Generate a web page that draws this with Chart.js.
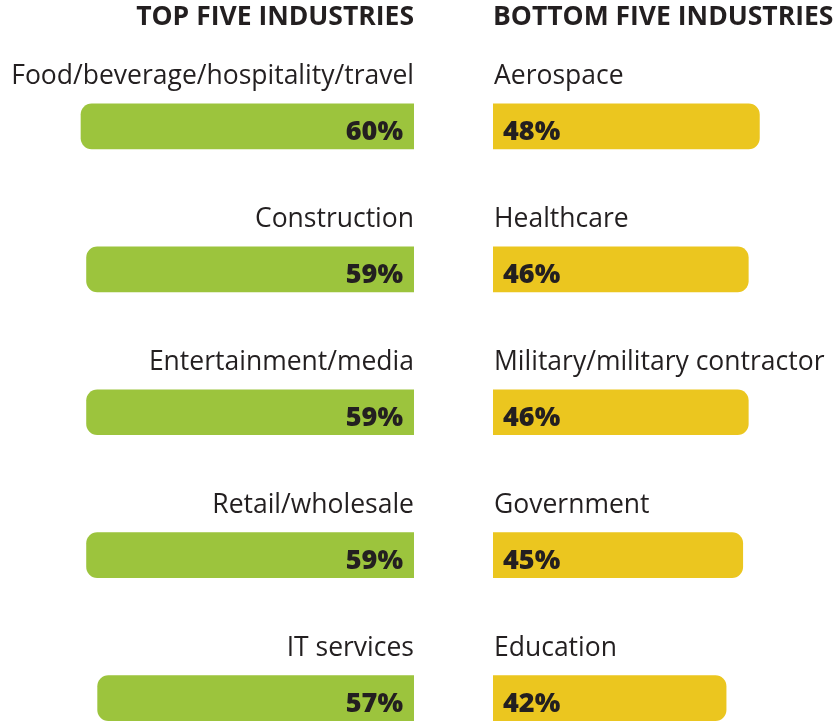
<!DOCTYPE html>
<html>
<head>
<meta charset="utf-8">
<script src="https://cdn.jsdelivr.net/npm/chart.js@4/dist/chart.umd.min.js"></script>
<style>
    html, body { margin: 0; padding: 0; background: #ffffff; overflow: hidden; }
    #wrap { position: relative; width: 837px; height: 721px; overflow: hidden; }
    #wrap canvas { position: absolute; top: 0; }
    #topChart { left: 0; }
    #bottomChart { left: 493px; }
</style>
</head>
<body>
<div id="wrap">
    <canvas id="topChart" width="414" height="780"></canvas>
    <canvas id="bottomChart" width="344" height="780"></canvas>
</div>
<script>
const topIndustries = ['Food/beverage/hospitality/travel', 'Construction', 'Entertainment/media', 'Retail/wholesale', 'IT services'];
const topValues = [60, 59, 59, 59, 57];

const bottomIndustries = ['Aerospace', 'Healthcare', 'Military/military contractor', 'Government', 'Education'];
const bottomValues = [48, 46, 46, 45, 42];

const TEXT_COLOR = '#231f20';
const GREEN = '#9cc43d';
const YELLOW = '#ebc61f';
const PX_PER_PCT = 5.55;

// category name above each bar, percentage inside it near the baseline
const barLabels = {
    id: 'barLabels',
    afterDatasetsDraw(chart, args, opts) {
        const { ctx, chartArea } = chart;
        const meta = chart.getDatasetMeta(0);
        const data = chart.data.datasets[0].data;
        ctx.save();
        meta.data.forEach((bar, i) => {
            const top = bar.y - bar.height / 2;
            ctx.fillStyle = TEXT_COLOR;
            ctx.textBaseline = 'alphabetic';

            ctx.font = '26.5px "Open Sans"';
            ctx.textAlign = opts.side === 'left' ? 'right' : 'left';
            const nameX = opts.side === 'left' ? chartArea.right : chartArea.left + 1;
            ctx.fillText(chart.data.labels[i], nameX, top - 19.5);

            ctx.font = '800 27px "Open Sans"';
            const valX = opts.side === 'left' ? bar.base - 11 : bar.base + 10;
            ctx.fillText(data[i] + '%', valX, bar.y + 14);
        });
        ctx.restore();
    }
};

function makeChart(canvas, labels, values, color, heading, side) {
    return new Chart(canvas, {
        type: 'bar',
        data: {
            labels,
            datasets: [{
                data: values,
                backgroundColor: color,
                borderRadius: 11,
                borderSkipped: 'start',
                barThickness: 45
            }]
        },
        options: {
            indexAxis: 'y',
            responsive: false,
            animation: false,
            devicePixelRatio: 1,
            layout: { padding: { top: 0, bottom: 10.5, left: 0, right: 0 } },
            scales: {
                x: {
                    display: false,
                    reverse: side === 'left',
                    min: 0,
                    max: canvas.width / PX_PER_PCT
                },
                y: { display: false }
            },
            plugins: {
                legend: { display: false },
                tooltip: { enabled: false },
                title: {
                    display: true,
                    text: heading,
                    align: side === 'left' ? 'end' : 'start',
                    color: TEXT_COLOR,
                    font: { family: '"Open Sans"', size: 26.5, weight: 'bold', lineHeight: 1.2 },
                    padding: { top: 2, bottom: 21.2 }
                },
                barLabels: { side }
            }
        },
        plugins: [barLabels]
    });
}

makeChart(document.getElementById('topChart'), topIndustries, topValues, GREEN, 'TOP FIVE INDUSTRIES', 'left');
makeChart(document.getElementById('bottomChart'), bottomIndustries, bottomValues, YELLOW, 'BOTTOM FIVE INDUSTRIES', 'right');
</script>
</body>
</html>
